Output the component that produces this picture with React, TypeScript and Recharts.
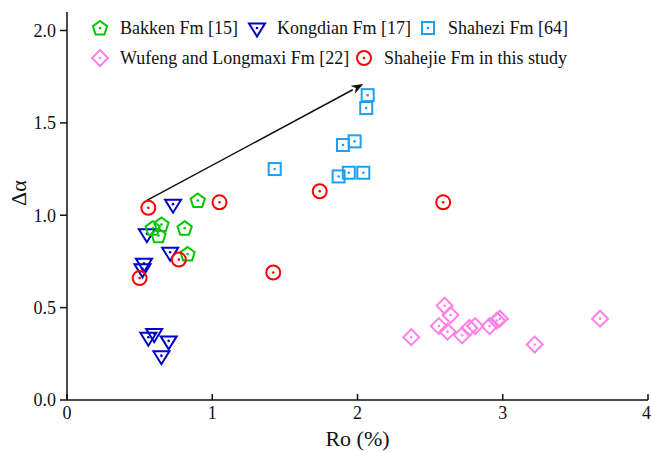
import React from "react";
import {
  ScatterChart,
  Scatter,
  XAxis,
  YAxis,
  ReferenceLine,
} from "recharts";

// Ro (%) and Δα for each formation
const bakkenRo = [0.9, 0.59, 0.65, 0.63, 0.81, 0.83];
const bakkenDa = [1.08, 0.93, 0.95, 0.89, 0.93, 0.79];

const kongdianRo = [0.73, 0.55, 0.71, 0.53, 0.52, 0.6, 0.56, 0.7, 0.65];
const kongdianDa = [1.06, 0.9, 0.8, 0.74, 0.71, 0.36, 0.34, 0.32, 0.24];

const shaheziRo = [2.07, 2.06, 1.98, 1.9, 1.43, 1.87, 1.94, 2.04];
const shaheziDa = [1.65, 1.58, 1.4, 1.38, 1.25, 1.21, 1.23, 1.23];

const wufengRo = [2.37, 2.6, 2.64, 2.56, 2.62, 2.72, 2.77, 2.81, 2.91, 2.96, 2.98, 3.22, 3.67];
const wufengDa = [0.34, 0.51, 0.46, 0.4, 0.37, 0.35, 0.39, 0.4, 0.4, 0.43, 0.44, 0.3, 0.44];

const shahejieRo = [0.56, 1.05, 1.74, 2.59, 0.77, 1.42, 0.5];
const shahejieDa = [1.04, 1.07, 1.13, 1.07, 0.76, 0.69, 0.66];

// trend arrow (Ro, Δα)
const arrowFrom = { x: 0.55, y: 1.08 };
const arrowTo = { x: 2.04, y: 1.71 };

const xTicks = [0, 1, 2, 3, 4];
const yTicks = [0, 0.5, 1.0, 1.5, 2.0];

const zip = (ro: number[], da: number[]) => ro.map((x, i) => ({ x, y: da[i] }));

const GREEN = "#00c800";
const BLUE = "#0000c8";
const SKY = "#1ea0f0";
const PINK = "#ff80e8";
const RED = "#ff0000";

const FONT = "Liberation Serif, Times New Roman, Times, DejaVu Serif, serif";

type Marker = (cx: number, cy: number, color: string) => React.ReactElement;

const dot = (cx: number, cy: number, color: string) => (
  <circle cx={cx} cy={cy} r={1.3} fill={color} />
);

const pentagon: Marker = (cx, cy, color) => {
  const r = 7.5;
  const pts = [0, 1, 2, 3, 4]
    .map((k) => {
      const a = ((-90 + 72 * k) * Math.PI) / 180;
      return `${cx + r * Math.cos(a)},${cy + 0.5 + r * Math.sin(a)}`;
    })
    .join(" ");
  return (
    <g>
      <polygon points={pts} fill="none" stroke={color} strokeWidth={2} />
      {dot(cx, cy, color)}
    </g>
  );
};

const triangle: Marker = (cx, cy, color) => (
  <g>
    <polygon
      points={`${cx - 8},${cy - 4.5} ${cx + 8},${cy - 4.5} ${cx},${cy + 8.5}`}
      fill="none"
      stroke={color}
      strokeWidth={2}
    />
    {dot(cx, cy, color)}
  </g>
);

const square: Marker = (cx, cy, color) => (
  <g>
    <rect x={cx - 6} y={cy - 6} width={12} height={12} fill="none" stroke={color} strokeWidth={2} />
    {dot(cx, cy, color)}
  </g>
);

const diamond: Marker = (cx, cy, color) => (
  <g>
    <polygon
      points={`${cx},${cy - 8} ${cx + 8},${cy} ${cx},${cy + 8} ${cx - 8},${cy}`}
      fill="none"
      stroke={color}
      strokeWidth={2}
    />
    {dot(cx, cy, color)}
  </g>
);

const ring: Marker = (cx, cy, color) => (
  <g>
    <circle cx={cx} cy={cy} r={7} fill="none" stroke={color} strokeWidth={2} />
    {dot(cx, cy, color)}
  </g>
);

const series = [
  { name: "Kongdian Fm [17]", data: zip(kongdianRo, kongdianDa), color: BLUE, marker: triangle },
  { name: "Bakken Fm [15]", data: zip(bakkenRo, bakkenDa), color: GREEN, marker: pentagon },
  { name: "Shahezi Fm [64]", data: zip(shaheziRo, shaheziDa), color: SKY, marker: square },
  { name: "Wufeng and Longmaxi Fm [22]", data: zip(wufengRo, wufengDa), color: PINK, marker: diamond },
  { name: "Shahejie Fm in this study", data: zip(shahejieRo, shahejieDa), color: RED, marker: ring },
];

const legendItems = [
  { name: "Bakken Fm [15]", color: GREEN, marker: pentagon, left: 89, top: 17 },
  { name: "Kongdian Fm [17]", color: BLUE, marker: triangle, left: 246, top: 17 },
  { name: "Shahezi Fm [64]", color: SKY, marker: square, left: 417, top: 17 },
  { name: "Wufeng and Longmaxi Fm [22]", color: PINK, marker: diamond, left: 89, top: 47 },
  { name: "Shahejie Fm in this study", color: RED, marker: ring, left: 353, top: 47 },
];

// eslint-disable-next-line @typescript-eslint/no-explicit-any
const Arrow = (props: any) => {
  const { x1, y1, x2, y2 } = props;
  const ang = Math.atan2(y2 - y1, x2 - x1);
  const len = 12;
  const w = 4.5;
  const bx = x2 - len * Math.cos(ang);
  const by = y2 - len * Math.sin(ang);
  const px = -Math.sin(ang) * w;
  const py = Math.cos(ang) * w;
  const nx = x2 - (len - 3.5) * Math.cos(ang);
  const ny = y2 - (len - 3.5) * Math.sin(ang);
  return (
    <g>
      <line x1={x1} y1={y1} x2={bx} y2={by} stroke="#111" strokeWidth={1.5} />
      <polygon
        points={`${x2},${y2} ${bx + px},${by + py} ${nx},${ny} ${bx - px},${by - py}`}
        fill="#111"
      />
    </g>
  );
};

export default function App() {
  const tickStyle = { fill: "#111", fontSize: 18, fontFamily: FONT };
  return (
    <div style={{ position: "absolute", left: 0, top: 0, width: 651, height: 452, background: "#fff" }}>
      <ScatterChart width={651} height={452} margin={{ top: 12, right: 3, bottom: 0, left: 0 }}>
        <XAxis
          type="number"
          dataKey="x"
          domain={[0, 4]}
          ticks={xTicks}
          height={52}
          tickSize={-6}
          tickMargin={12}
          tick={tickStyle}
          axisLine={{ stroke: "#111", strokeWidth: 1.5 }}
          tickLine={{ stroke: "#111", strokeWidth: 1.5 }}
          label={{ value: "Ro (%)", position: "insideBottom", offset: 6, fill: "#111", fontSize: 22, fontFamily: FONT }}
        />
        <XAxis
          xAxisId="top"
          type="number"
          orientation="top"
          domain={[0, 4]}
          height={0}
          tick={false}
          tickLine={false}
          axisLine={{ stroke: "#111", strokeWidth: 1.5 }}
        />
        <YAxis
          type="number"
          dataKey="y"
          domain={[0, 2.1]}
          ticks={yTicks}
          width={67}
          tickSize={7}
          tickMargin={4}
          tickFormatter={(v: number) => v.toFixed(1)}
          tick={tickStyle}
          axisLine={{ stroke: "#111", strokeWidth: 1.5 }}
          tickLine={{ stroke: "#111", strokeWidth: 1.5 }}
          label={{ value: "Δα", angle: -90, position: "insideLeft", offset: 18, fill: "#111", fontSize: 22, fontFamily: FONT }}
        />
        <YAxis
          yAxisId="right"
          type="number"
          orientation="right"
          domain={[0, 2.1]}
          width={0}
          tick={false}
          tickLine={false}
          axisLine={{ stroke: "#111", strokeWidth: 1.5 }}
        />
        <ReferenceLine segment={[arrowFrom, arrowTo]} shape={Arrow} />
        {series.map((s) => (
          <Scatter
            key={s.name}
            name={s.name}
            data={s.data}
            isAnimationActive={false}
            // eslint-disable-next-line @typescript-eslint/no-explicit-any
            shape={(p: any) => s.marker(p.cx, p.cy, s.color)}
          />
        ))}
      </ScatterChart>
      {legendItems.map((it) => (
        <div
          key={it.name}
          style={{
            position: "absolute",
            left: it.left,
            top: it.top,
            display: "flex",
            alignItems: "center",
            fontFamily: FONT,
            fontSize: 18,
            color: "#111",
            whiteSpace: "nowrap",
          }}
        >
          <svg width={22} height={22} style={{ marginRight: 9 }}>
            {it.marker(11, 11, it.color)}
          </svg>
          {it.name}
        </div>
      ))}
    </div>
  );
}
